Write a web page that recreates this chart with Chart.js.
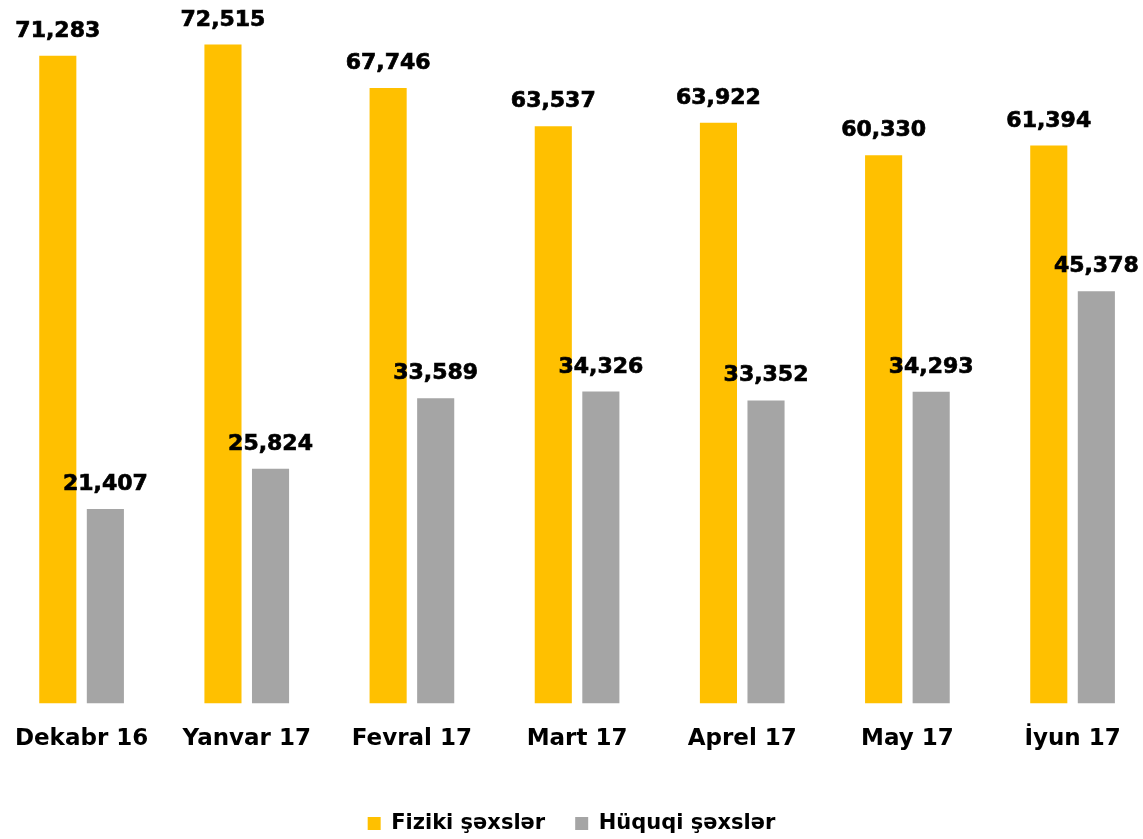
<!DOCTYPE html>
<html>
<head>
<meta charset="utf-8">
<script src="https://cdn.jsdelivr.net/npm/chart.js@4/dist/chart.umd.min.js"></script>
<style>
  html, body { margin: 0; padding: 0; background: #fff; }
  #wrap { width: 1143px; height: 839px; position: relative; }
</style>
</head>
<body>
<div id="wrap"><canvas id="myChart"></canvas></div>
<script>
// ===== data =====
const months = ["Dekabr 16", "Yanvar 17", "Fevral 17", "Mart 17", "Aprel 17", "May 17", "İyun 17"];
const fiziki = [71283, 72515, 67746, 63537, 63922, 60330, 61394];
const huquqi = [21407, 25824, 33589, 34326, 33352, 34293, 45378];
const seriesNames = ["Fiziki şəxslər", "Hüquqi şəxslər"];

const FONT = "'DejaVu Sans', Verdana, sans-serif";

// value labels above bars
const valueLabels = {
  id: "valueLabels",
  afterDatasetsDraw(chart) {
    const ctx = chart.ctx;
    ctx.save();
    ctx.font = "bold 22px " + FONT;
    ctx.fillStyle = "#000";
    ctx.strokeStyle = "#000";
    ctx.lineWidth = 0.7;
    ctx.textAlign = "center";
    ctx.textBaseline = "alphabetic";
    chart.data.datasets.forEach((ds, i) => {
      chart.getDatasetMeta(i).data.forEach((bar, j) => {
        const txt = ds.data[j].toLocaleString("en-US");
        ctx.fillText(txt, bar.x, bar.y - 19);
        ctx.strokeText(txt, bar.x, bar.y - 19);
      });
    });
    ctx.restore();
  },
};

// the original plot runs a little past the right edge of the picture
const stretchX = {
  id: "stretchX",
  afterLayout(chart) {
    const x = chart.scales.x;
    x.left = -1;
    x.width = chart.width * 1.0115;
    x.right = x.left + x.width;
    x.configure();
  },
};

new Chart(document.getElementById("myChart").getContext("2d"), {
  type: "bar",
  data: {
    labels: months,
    datasets: [
      {
        label: seriesNames[0],
        data: fiziki,
        backgroundColor: "#FFC000",
        barPercentage: 0.78,
        categoryPercentage: 0.576,
      },
      {
        label: seriesNames[1],
        data: huquqi,
        backgroundColor: "#A5A5A5",
        barPercentage: 0.78,
        categoryPercentage: 0.576,
      },
    ],
  },
  options: {
    responsive: true,
    maintainAspectRatio: false,
    animation: false,
    layout: { padding: { top: 22, left: 0, right: 0, bottom: -5 } },
    scales: {
      x: {
        grid: { display: false, drawTicks: false },
        border: { display: false },
        ticks: {
          color: "#000",
          font: { family: FONT, size: 23, weight: "bold" },
          padding: 22,
          autoSkip: false,
          maxRotation: 0,
        },
        afterFit(scale) {
          scale.height += 8;
        },
      },
      y: {
        display: false,
        min: 0,
        max: 75000,
      },
    },
    plugins: {
      legend: {
        position: "bottom",
        labels: {
          color: "#000",
          font: { family: FONT, size: 21, weight: "bold" },
          boxWidth: 13,
          boxHeight: 13,
          padding: 30,
        },
      },
      tooltip: { enabled: false },
    },
  },
  plugins: [stretchX, valueLabels],
});
</script>
</body>
</html>
